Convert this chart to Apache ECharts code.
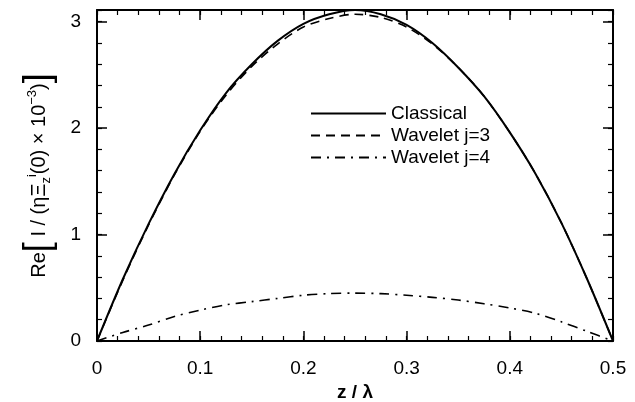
<!DOCTYPE html>
<html>
<head>
<meta charset="utf-8">
<script src="https://cdn.jsdelivr.net/npm/echarts@6/dist/echarts.min.js"></script>
<style>
html,body{margin:0;padding:0;background:#fff;}
#chart{width:635px;height:402px;}
</style>
</head>
<body>
<div id="chart"></div>
<script>
// z / lambda sample positions
var zValues = [0, 0.025, 0.05, 0.075, 0.1, 0.125, 0.15, 0.175, 0.2, 0.225, 0.25,
               0.275, 0.3, 0.325, 0.35, 0.375, 0.4, 0.425, 0.45, 0.475, 0.5];
var classical = [0, 0.58, 1.10, 1.57, 1.98, 2.33, 2.60, 2.82, 2.98, 3.07, 3.11,
                 3.07, 2.97, 2.80, 2.57, 2.30, 1.96, 1.57, 1.11, 0.58, 0];
var waveletJ3 = [0, 0.57, 1.09, 1.56, 1.97, 2.31, 2.58, 2.79, 2.95, 3.03, 3.07,
                 3.04, 2.95, 2.79, 2.57, 2.30, 1.96, 1.57, 1.11, 0.58, 0];
var waveletJ4 = [0, 0.08, 0.15, 0.23, 0.29, 0.34, 0.37, 0.40, 0.43, 0.445, 0.45,
                 0.445, 0.43, 0.41, 0.385, 0.35, 0.31, 0.26, 0.18, 0.09, 0];
var seriesNames = ['Classical', 'Wavelet j=3', 'Wavelet j=4'];
var xTickLabels = ['0', '0.1', '0.2', '0.3', '0.4', '0.5'];
var yTickLabels = ['0', '1', '2', '3'];

function pairs(vals) {
  return zValues.map(function (z, i) { return [z, vals[i]]; });
}

var FONT = '"Liberation Sans", Arial, sans-serif';
var chart = echarts.init(document.getElementById('chart'), null, {renderer: 'canvas'});

var GRID = {left: 97, right: 22, top: 10, bottom: 61, containLabel: false, outerBoundsMode: 'none'};
var XMAX = 0.5, YMAX = 3.11;
var frameLine = {show: true, onZero: false, lineStyle: {color: '#000', width: 2}};
var noLine = {show: false, onZero: false};
var tickMajor = {show: true, inside: true, length: 10, lineStyle: {color: '#000', width: 1.5}};
var tickMinor = {show: true, inside: true, length: 5, lineStyle: {color: '#000', width: 1.2}};

function frameAxis(pos, gridIndex, max, interval, tick, line) {
  return {
    type: 'value', gridIndex: gridIndex, position: pos,
    min: 0, max: max, interval: interval,
    axisLine: line, axisTick: tick, splitLine: {show: false},
    axisLabel: {show: false}
  };
}

var xMain = frameAxis('bottom', 0, XMAX, 0.1, tickMajor, frameLine);
xMain.name = 'z / λ';
xMain.nameLocation = 'middle';
xMain.nameGap = 37;
xMain.nameTextStyle = {fontFamily: FONT, fontSize: 19, fontWeight: 'bold', color: '#000'};
xMain.axisLabel = {
  show: true, fontFamily: FONT, fontSize: 19, color: '#000', margin: 18,
  formatter: function (v) { return xTickLabels[Math.round(v * 10)]; }
};

var yMain = frameAxis('left', 0, YMAX, 1, tickMajor, frameLine);
yMain.name = '{n|Re}{b|[}{n| I / (ηΞ}{sub|z}{sup|i}{n|(0) × 10}{sup|−3}{n|)}{b|]}';
yMain.nameLocation = 'middle';
yMain.nameRotate = 90;
yMain.nameGap = 40;
yMain.nameTextStyle = {
  fontFamily: FONT, fontSize: 20, color: '#000',
  rich: {
    n: {fontFamily: FONT, fontSize: 20, color: '#000'},
    b: {fontFamily: FONT, fontSize: 36, color: '#000'},
    sub: {fontFamily: FONT, fontSize: 13, color: '#000', padding: [14, 0, 0, 0]},
    sup: {fontFamily: FONT, fontSize: 13, color: '#000', padding: [0, 0, 14, 0]}
  }
};
yMain.axisLabel = {
  show: true, fontFamily: FONT, fontSize: 19, color: '#000', margin: 16,
  showMaxLabel: false,
  formatter: function (v) {
    return Math.abs(v - Math.round(v)) < 1e-6 ? yTickLabels[Math.round(v)] : '';
  }
};

var option = {
  animation: false,
  backgroundColor: '#fff',
  grid: [GRID, Object.assign({}, GRID)],
  legend: {
    orient: 'vertical',
    left: 310,
    top: 104,
    padding: 0,
    itemWidth: 75,
    itemHeight: 14,
    itemGap: 3,
    data: seriesNames,
    itemStyle: {color: 'transparent', borderWidth: 0, opacity: 0},
    textStyle: {fontFamily: FONT, fontSize: 19, color: '#000'}
  },
  xAxis: [
    xMain,
    frameAxis('top', 0, XMAX, 0.1, tickMajor, frameLine),
    frameAxis('bottom', 1, XMAX, 0.02, tickMinor, noLine),
    frameAxis('top', 1, XMAX, 0.02, tickMinor, noLine)
  ],
  yAxis: [
    yMain,
    frameAxis('right', 0, YMAX, 1, tickMajor, frameLine),
    frameAxis('left', 1, YMAX, 0.2, tickMinor, noLine),
    frameAxis('right', 1, YMAX, 0.2, tickMinor, noLine)
  ],
  series: [{
    name: seriesNames[0],
    type: 'line',
    smooth: 0.3,
    symbol: 'none',
    data: pairs(classical),
    lineStyle: {color: '#000', width: 2, type: 'solid'},
    itemStyle: {color: '#000'}
  }, {
    name: seriesNames[1],
    type: 'line',
    smooth: 0.3,
    symbol: 'none',
    data: pairs(waveletJ3),
    lineStyle: {color: '#000', width: 1.6, type: [9, 6]},
    itemStyle: {color: '#000'}
  }, {
    name: seriesNames[2],
    type: 'line',
    smooth: 0.3,
    symbol: 'none',
    data: pairs(waveletJ4),
    lineStyle: {color: '#000', width: 1.6, type: [10, 6, 2, 6]},
    itemStyle: {color: '#000'}
  }]
};
chart.setOption(option);
</script>
</body>
</html>
